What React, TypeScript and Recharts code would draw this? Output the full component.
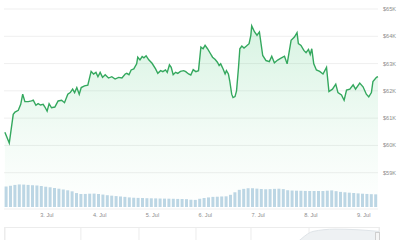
import { ComposedChart, Area, XAxis, YAxis, CartesianGrid, BarChart, Bar, AreaChart } from 'recharts';

// hours after 3. Jul 00:00
const priceHours = [
    -19.1, -17.1, -15.3, -14.5, -13.0, -11.9, -11.0, -10.0, -8.5, -7.0,
    -6.2, -5.0, -4.0, -2.9, -1.7, -0.9, 0.1, 1.0, 2.1, 3.6,
    5.1, 6.7, 8.0, 9.5, 10.6, 11.7, 12.6, 13.6, 14.7, 15.6,
    17.1, 18.6, 20.1, 21.2, 22.3, 23.2, 24.2, 25.3, 26.5, 28.0,
    29.5, 31.0, 32.6, 34.1, 35.6, 36.3, 37.3, 38.3, 39.5, 40.8,
    41.3, 42.3, 43.3, 44.1, 45.1, 46.3, 47.8, 49.4, 50.4, 51.7,
    52.7, 53.9, 54.7, 55.7, 56.5, 57.4, 58.5, 59.5, 60.7, 62.2,
    63.1, 64.4, 65.4, 66.5, 67.7, 68.9, 70.0, 71.0, 71.9, 73.0,
    74.1, 75.3, 76.5, 77.5, 78.3, 79.0, 80.1, 81.0, 81.6, 82.5,
    83.1, 84.0, 84.6, 85.5, 86.2, 87.1, 87.7, 88.6, 89.6, 90.7,
    91.9, 92.7, 93.1, 94.4, 95.5, 96.6, 98.1, 99.6, 101.1, 102.2,
    103.4, 104.9, 106.4, 108.0, 109.2, 111.0, 112.5, 113.7, 114.3, 115.5,
    116.8, 117.8, 118.9, 119.7, 120.4, 121.3, 122.5, 124.0, 125.5, 127.1,
    128.2, 129.8, 131.3, 132.3, 133.9, 135.1, 136.2, 137.7, 139.2, 140.3,
    142.2, 143.7, 145.2, 146.3, 147.5, 148.2, 149.8, 150.5,
];

const prices = [
    60481, 60085, 61137, 61222, 61285, 61507, 61878, 61604, 61604, 61630,
    61656, 61470, 61530, 61481, 61507, 61407, 61259, 61530, 61381, 61407,
    61630, 61656, 61567, 61878, 61937, 62063, 61937, 62122, 61878, 62122,
    62185, 62211, 62715, 62619, 62678, 62519, 62678, 62493, 62593, 62470,
    62519, 62433, 62493, 62470, 62619, 62641, 62593, 62767, 62804, 62989,
    63233, 63137, 63259, 63211, 63285, 63137, 63011, 62804, 62641, 62741,
    62704, 62767, 62678, 62952, 62863, 62593, 62678, 62641, 62715, 62741,
    62704, 62619, 62581, 62778, 62704, 62741, 63604, 63544, 63667, 63544,
    63396, 63233, 63148, 63048, 62926, 62989, 62804, 62619, 62741, 62619,
    62370, 61878, 61752, 61789, 62000, 62863, 63544, 63641, 63567, 63641,
    63730, 64037, 64381, 64159, 64037, 64159, 63296, 63111, 63074, 63270,
    63026, 63130, 63196, 63270, 62989, 63852, 63974, 64137, 63730, 63667,
    63481, 63396, 63519, 63333, 63544, 62989, 62767, 62715, 62619, 62863,
    61974, 62063, 62248, 61937, 61852, 61656, 62026, 62063, 62222, 62063,
    62285, 62148, 61878, 61778, 61937, 62344, 62493, 62519,
];

// 2-hour volume bars, $B
const volumes = [
    25.9, 26.8, 27.9, 28.5, 28.3, 27.9, 27.5, 27.2, 26.5, 25.6,
    24.9, 24.0, 23.1, 22.1, 21.1, 19.8, 17.6, 16.4, 16.5, 16.8,
    16.9, 16.4, 15.7, 14.9, 14.3, 13.8, 13.3, 12.8, 12.1, 11.7,
    11.5, 11.4, 11.1, 11.0, 10.9, 10.7, 10.6, 10.5, 10.4, 10.2,
    10.1, 9.9, 9.2, 9.0, 10.4, 11.4, 12.1, 12.8, 13.0, 13.3,
    13.5, 15.4, 18.6, 21.7, 22.9, 23.7, 23.7, 23.2, 22.7, 22.4,
    22.6, 22.9, 23.1, 22.6, 21.2, 20.8, 20.6, 20.5, 20.3, 20.2,
    20.2, 20.2, 20.2, 20.6, 21.0, 20.0, 19.1, 18.6, 18.1, 17.7,
    17.2, 16.8, 16.5, 16.2, 16.0,
];

const dayTicks = [0, 24, 48, 72, 96, 120, 144];
const dayLabels = ['3. Jul', '4. Jul', '5. Jul', '6. Jul', '7. Jul', '8. Jul', '9. Jul'];
const priceTicks = [59000, 60000, 61000, 62000, 63000, 64000, 65000];

// navigator (long history, $K)
const navValues = [30, 28, 25, 22, 20, 21, 23, 26, 27, 29, 30, 33, 36, 40, 64, 68, 67, 64];
const navDividers = [3.45, 6.09, 8.68, 11.18, 13.82];

const GREEN = "#34a85e";
const AXIS_TEXT = { fontSize: 5.6, fill: "#8c8c8c", fontFamily: "Liberation Sans, Arial, sans-serif" };

export default function App() {
    const priceData = priceHours.map((t, i) => ({ t, price: prices[i] }));
    const volumeData = volumes.map((v, i) => ({ bin: i, volume: v }));
    const navData = navValues.map((v, i) => ({ i, v }));

    return (
        <div style={{ position: 'absolute', left: 0, top: 0, width: 400, height: 240, background: '#fff', overflow: 'hidden' }}>
            <ComposedChart width={400} height={222} data={priceData} margin={{ top: 9, right: 0, left: 4, bottom: 0 }}>
                <defs>
                    <linearGradient id="priceFill" x1="0" y1="0" x2="0" y2="1">
                        <stop offset="0%" stopColor="#34c36a" stopOpacity={0.32} />
                        <stop offset="60%" stopColor="#34c36a" stopOpacity={0.1} />
                        <stop offset="100%" stopColor="#34c36a" stopOpacity={0} />
                    </linearGradient>
                </defs>
                <CartesianGrid horizontal vertical={false} stroke="#efefef" />
                <XAxis
                    dataKey="t"
                    type="number"
                    domain={[-19.5, 150.5]}
                    ticks={dayTicks}
                    tickFormatter={(v) => dayLabels[dayTicks.indexOf(v)]}
                    axisLine={false}
                    tickLine={false}
                    tickSize={0}
                    tickMargin={4}
                    height={13}
                    tick={AXIS_TEXT}
                />
                <YAxis
                    orientation="right"
                    domain={[57670, 65000]}
                    ticks={priceTicks}
                    tickFormatter={(v) => `$${v / 1000}K`}
                    axisLine={false}
                    tickLine={false}
                    tickSize={0}
                    tickMargin={5}
                    width={22}
                    tick={{ ...AXIS_TEXT, textAnchor: 'start' }}
                    allowDataOverflow
                />
                <Area
                    type="linear"
                    dataKey="price"
                    stroke={GREEN}
                    strokeWidth={1.4}
                    fill="url(#priceFill)"
                    dot={false}
                    activeDot={false}
                    isAnimationActive={false}
                />
            </ComposedChart>

            <div style={{ position: 'absolute', left: 0, top: 180 }}>
                <BarChart width={400} height={27} data={volumeData} margin={{ top: 0, right: 22, left: 4, bottom: 0 }} barCategoryGap={0.6}>
                    <XAxis dataKey="bin" hide />
                    <YAxis hide domain={[0, 34.1]} />
                    <Bar dataKey="volume" fill="#bcd6e4" isAnimationActive={false} />
                </BarChart>
            </div>

            <div style={{ position: 'absolute', left: 4, top: 227, width: 374, height: 40, borderTop: '1px solid #ececec', borderLeft: '1px solid #ececec', borderRight: '1px solid #ececec' }}>
                <AreaChart width={374} height={40} data={navData} margin={{ top: 0, right: 0, left: 0, bottom: 0 }}>
                    <CartesianGrid horizontal={false} vertical stroke="#ececec" />
                    <XAxis dataKey="i" type="number" domain={[0, 17]} ticks={navDividers} hide />
                    <YAxis hide domain={[0, 70]} />
                    <Area type="monotone" dataKey="v" stroke="#dfe4e8" fill="#eef1f3" fillOpacity={1} dot={false} isAnimationActive={false} />
                </AreaChart>
            </div>
            <div style={{ position: 'absolute', left: 375, top: 232, width: 5, height: 9, border: '1px solid #cfcfcf', background: '#f5f5f5', boxSizing: 'border-box' }} />
        </div>
    );
}
